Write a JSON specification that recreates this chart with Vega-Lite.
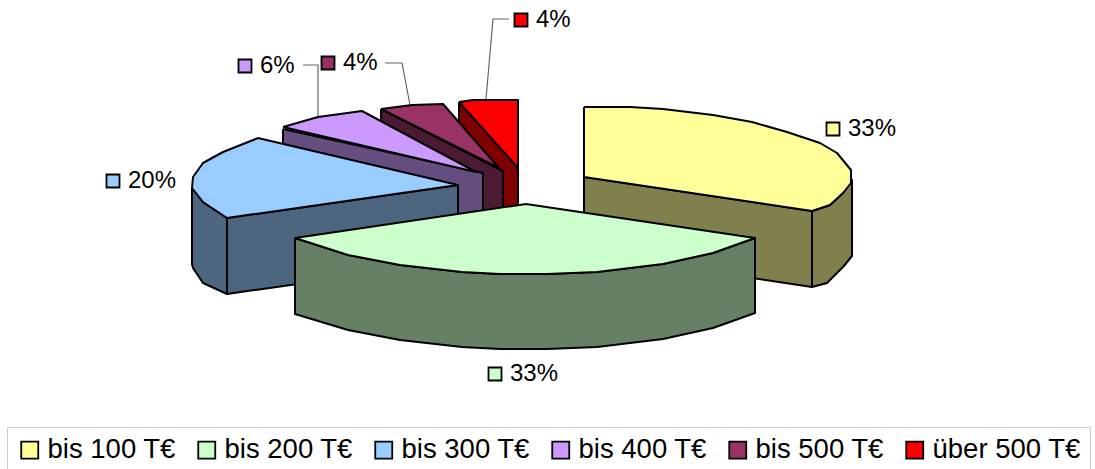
{
  "$schema": "https://vega.github.io/schema/vega-lite/v6.json",
  "width": 1095,
  "height": 469,
  "padding": 0,
  "autosize": {"type": "fit", "contains": "padding"},
  "background": "white",
  "config": {"view": {"stroke": null}, "font": "Liberation Sans"},
  "datasets": {
    "outline": [
      {"face":"r1","shade":"über 500 T€ Seite","i":0,"x":459,"y":102},{"face":"r1","shade":"über 500 T€ Seite","i":1,"x":518,"y":168},{"face":"r1","shade":"über 500 T€ Seite","i":2,"x":518,"y":244},{"face":"r1","shade":"über 500 T€ Seite","i":3,"x":459,"y":178},{"face":"r1","shade":"über 500 T€ Seite","i":4,"x":459,"y":102},
      {"face":"r2","shade":"über 500 T€","i":0,"x":459,"y":102},{"face":"r2","shade":"über 500 T€","i":1,"x":473,"y":100},{"face":"r2","shade":"über 500 T€","i":2,"x":518,"y":100},{"face":"r2","shade":"über 500 T€","i":3,"x":518,"y":168},{"face":"r2","shade":"über 500 T€","i":4,"x":459,"y":102},
      {"face":"m1","shade":"bis 500 T€ Seite","i":0,"x":381,"y":109},{"face":"m1","shade":"bis 500 T€ Seite","i":1,"x":503,"y":171},{"face":"m1","shade":"bis 500 T€ Seite","i":2,"x":503,"y":247},{"face":"m1","shade":"bis 500 T€ Seite","i":3,"x":381,"y":185},{"face":"m1","shade":"bis 500 T€ Seite","i":4,"x":381,"y":109},
      {"face":"m2","shade":"bis 500 T€","i":0,"x":381,"y":109},{"face":"m2","shade":"bis 500 T€","i":1,"x":412,"y":105},{"face":"m2","shade":"bis 500 T€","i":2,"x":443,"y":104},{"face":"m2","shade":"bis 500 T€","i":3,"x":499,"y":168},{"face":"m2","shade":"bis 500 T€","i":4,"x":381,"y":109},
      {"face":"p1","shade":"bis 400 T€ Seite","i":0,"x":283,"y":129},{"face":"p1","shade":"bis 400 T€ Seite","i":1,"x":483,"y":173},{"face":"p1","shade":"bis 400 T€ Seite","i":2,"x":483,"y":249},{"face":"p1","shade":"bis 400 T€ Seite","i":3,"x":283,"y":205},{"face":"p1","shade":"bis 400 T€ Seite","i":4,"x":283,"y":129},
      {"face":"p2","shade":"bis 400 T€","i":0,"x":283,"y":127},{"face":"p2","shade":"bis 400 T€","i":1,"x":318,"y":117},{"face":"p2","shade":"bis 400 T€","i":2,"x":362,"y":111},{"face":"p2","shade":"bis 400 T€","i":3,"x":476,"y":172},{"face":"p2","shade":"bis 400 T€","i":4,"x":283,"y":127},
      {"face":"b1","shade":"bis 300 T€ Seite","i":0,"x":227,"y":218},{"face":"b1","shade":"bis 300 T€ Seite","i":1,"x":458,"y":185},{"face":"b1","shade":"bis 300 T€ Seite","i":2,"x":458,"y":261},{"face":"b1","shade":"bis 300 T€ Seite","i":3,"x":227,"y":294},{"face":"b1","shade":"bis 300 T€ Seite","i":4,"x":227,"y":218},
      {"face":"b2","shade":"bis 300 T€ Seite","i":0,"x":192,"y":188},{"face":"b2","shade":"bis 300 T€ Seite","i":1,"x":203,"y":202},{"face":"b2","shade":"bis 300 T€ Seite","i":2,"x":227,"y":218},{"face":"b2","shade":"bis 300 T€ Seite","i":3,"x":227,"y":294},{"face":"b2","shade":"bis 300 T€ Seite","i":4,"x":203,"y":283},{"face":"b2","shade":"bis 300 T€ Seite","i":5,"x":193,"y":268},{"face":"b2","shade":"bis 300 T€ Seite","i":6,"x":192,"y":264},{"face":"b2","shade":"bis 300 T€ Seite","i":7,"x":192,"y":188},
      {"face":"b3","shade":"bis 300 T€","i":0,"x":258,"y":138},{"face":"b3","shade":"bis 300 T€","i":1,"x":223,"y":152},{"face":"b3","shade":"bis 300 T€","i":2,"x":203,"y":163},{"face":"b3","shade":"bis 300 T€","i":3,"x":193,"y":177},{"face":"b3","shade":"bis 300 T€","i":4,"x":192,"y":188},{"face":"b3","shade":"bis 300 T€","i":5,"x":203,"y":202},{"face":"b3","shade":"bis 300 T€","i":6,"x":227,"y":218},{"face":"b3","shade":"bis 300 T€","i":7,"x":458,"y":185},{"face":"b3","shade":"bis 300 T€","i":8,"x":258,"y":138},
      {"face":"y1","shade":"bis 100 T€ Seite","i":0,"x":584,"y":177},{"face":"y1","shade":"bis 100 T€ Seite","i":1,"x":812,"y":211},{"face":"y1","shade":"bis 100 T€ Seite","i":2,"x":812,"y":287},{"face":"y1","shade":"bis 100 T€ Seite","i":3,"x":584,"y":253},{"face":"y1","shade":"bis 100 T€ Seite","i":4,"x":584,"y":177},
      {"face":"y2","shade":"bis 100 T€ Seite","i":0,"x":812,"y":211},{"face":"y2","shade":"bis 100 T€ Seite","i":1,"x":830,"y":205},{"face":"y2","shade":"bis 100 T€ Seite","i":2,"x":843,"y":193},{"face":"y2","shade":"bis 100 T€ Seite","i":3,"x":852,"y":180},{"face":"y2","shade":"bis 100 T€ Seite","i":4,"x":852,"y":256},{"face":"y2","shade":"bis 100 T€ Seite","i":5,"x":843,"y":267},{"face":"y2","shade":"bis 100 T€ Seite","i":6,"x":827,"y":283},{"face":"y2","shade":"bis 100 T€ Seite","i":7,"x":812,"y":287},{"face":"y2","shade":"bis 100 T€ Seite","i":8,"x":812,"y":211},
      {"face":"y3","shade":"bis 100 T€","i":0,"x":584,"y":107},{"face":"y3","shade":"bis 100 T€","i":1,"x":630,"y":107},{"face":"y3","shade":"bis 100 T€","i":2,"x":663,"y":109},{"face":"y3","shade":"bis 100 T€","i":3,"x":713,"y":115},{"face":"y3","shade":"bis 100 T€","i":4,"x":752,"y":122},{"face":"y3","shade":"bis 100 T€","i":5,"x":787,"y":132},{"face":"y3","shade":"bis 100 T€","i":6,"x":820,"y":143},{"face":"y3","shade":"bis 100 T€","i":7,"x":837,"y":153},{"face":"y3","shade":"bis 100 T€","i":8,"x":851,"y":170},{"face":"y3","shade":"bis 100 T€","i":9,"x":851,"y":183},{"face":"y3","shade":"bis 100 T€","i":10,"x":843,"y":193},{"face":"y3","shade":"bis 100 T€","i":11,"x":830,"y":205},{"face":"y3","shade":"bis 100 T€","i":12,"x":812,"y":211},{"face":"y3","shade":"bis 100 T€","i":13,"x":584,"y":177},{"face":"y3","shade":"bis 100 T€","i":14,"x":584,"y":107},
      {"face":"g1","shade":"bis 200 T€ Seite","i":0,"x":295,"y":238},{"face":"g1","shade":"bis 200 T€ Seite","i":1,"x":348,"y":255},{"face":"g1","shade":"bis 200 T€ Seite","i":2,"x":400,"y":265},{"face":"g1","shade":"bis 200 T€ Seite","i":3,"x":462,"y":272},{"face":"g1","shade":"bis 200 T€ Seite","i":4,"x":500,"y":274},{"face":"g1","shade":"bis 200 T€ Seite","i":5,"x":547,"y":274},{"face":"g1","shade":"bis 200 T€ Seite","i":6,"x":597,"y":272},{"face":"g1","shade":"bis 200 T€ Seite","i":7,"x":663,"y":264},{"face":"g1","shade":"bis 200 T€ Seite","i":8,"x":713,"y":253},{"face":"g1","shade":"bis 200 T€ Seite","i":9,"x":755,"y":238},{"face":"g1","shade":"bis 200 T€ Seite","i":10,"x":755,"y":313},{"face":"g1","shade":"bis 200 T€ Seite","i":11,"x":713,"y":328},{"face":"g1","shade":"bis 200 T€ Seite","i":12,"x":663,"y":339},{"face":"g1","shade":"bis 200 T€ Seite","i":13,"x":597,"y":347},{"face":"g1","shade":"bis 200 T€ Seite","i":14,"x":547,"y":349},{"face":"g1","shade":"bis 200 T€ Seite","i":15,"x":500,"y":349},{"face":"g1","shade":"bis 200 T€ Seite","i":16,"x":462,"y":347},{"face":"g1","shade":"bis 200 T€ Seite","i":17,"x":400,"y":340},{"face":"g1","shade":"bis 200 T€ Seite","i":18,"x":348,"y":330},{"face":"g1","shade":"bis 200 T€ Seite","i":19,"x":295,"y":314},{"face":"g1","shade":"bis 200 T€ Seite","i":20,"x":295,"y":238},
      {"face":"g2","shade":"bis 200 T€","i":0,"x":526,"y":204},{"face":"g2","shade":"bis 200 T€","i":1,"x":755,"y":238},{"face":"g2","shade":"bis 200 T€","i":2,"x":713,"y":253},{"face":"g2","shade":"bis 200 T€","i":3,"x":663,"y":264},{"face":"g2","shade":"bis 200 T€","i":4,"x":597,"y":272},{"face":"g2","shade":"bis 200 T€","i":5,"x":547,"y":274},{"face":"g2","shade":"bis 200 T€","i":6,"x":500,"y":274},{"face":"g2","shade":"bis 200 T€","i":7,"x":462,"y":272},{"face":"g2","shade":"bis 200 T€","i":8,"x":400,"y":265},{"face":"g2","shade":"bis 200 T€","i":9,"x":348,"y":255},{"face":"g2","shade":"bis 200 T€","i":10,"x":295,"y":238},{"face":"g2","shade":"bis 200 T€","i":11,"x":526,"y":204}
    ],
    "leaders": [
      {"slice":"bis 400 T€","i":0,"x":303,"y":65},{"slice":"bis 400 T€","i":1,"x":318,"y":65},{"slice":"bis 400 T€","i":2,"x":318,"y":117},
      {"slice":"bis 500 T€","i":0,"x":385,"y":63},{"slice":"bis 500 T€","i":1,"x":402,"y":63},{"slice":"bis 500 T€","i":2,"x":410,"y":105},
      {"slice":"über 500 T€","i":0,"x":509,"y":19},{"slice":"über 500 T€","i":1,"x":493,"y":19},{"slice":"über 500 T€","i":2,"x":486,"y":99}
    ],
    "shares": [
      {"slice":"bis 100 T€","share":0.33,"x":833,"y":129},
      {"slice":"bis 200 T€","share":0.33,"x":495,"y":374},
      {"slice":"bis 300 T€","share":0.20,"x":113,"y":181},
      {"slice":"bis 400 T€","share":0.06,"x":245,"y":66},
      {"slice":"bis 500 T€","share":0.04,"x":328,"y":63},
      {"slice":"über 500 T€","share":0.04,"x":521,"y":20}
    ]
  },
  "layer": [
    {
      "data": {"name": "leaders"},
      "mark": {"type": "line", "stroke": "#666666", "strokeWidth": 1.2},
      "encoding": {
        "x": {"field": "x", "type": "quantitative", "axis": null, "scale": {"domain": [0, 1095], "nice": false, "zero": false}},
        "y": {"field": "y", "type": "quantitative", "axis": null, "scale": {"domain": [469, 0], "nice": false, "zero": false}},
        "detail": {"field": "slice"},
        "order": {"field": "i"}
      }
    },
    {
      "data": {"name": "outline"},
      "mark": {"type": "line", "stroke": "black", "strokeWidth": 2, "strokeJoin": "round"},
      "encoding": {
        "x": {"field": "x", "type": "quantitative"},
        "y": {"field": "y", "type": "quantitative"},
        "detail": {"field": "face"},
        "order": {"field": "i"},
        "fill": {"field": "shade", "type": "nominal"}
      }
    },
    {
      "data": {"name": "shares"},
      "mark": {"type": "point", "shape": "square", "filled": true, "opacity": 1, "size": 169, "stroke": "black", "strokeWidth": 1.8},
      "encoding": {
        "x": {"field": "x", "type": "quantitative"},
        "y": {"field": "y", "type": "quantitative"},
        "fill": {
          "field": "slice",
          "type": "nominal",
          "scale": {
            "domain": ["bis 100 T€", "bis 200 T€", "bis 300 T€", "bis 400 T€", "bis 500 T€", "über 500 T€", "bis 100 T€ Seite", "bis 200 T€ Seite", "bis 300 T€ Seite", "bis 400 T€ Seite", "bis 500 T€ Seite", "über 500 T€ Seite"],
            "range": ["#FFFF99", "#CCFFCC", "#99CCFF", "#CC99FF", "#993366", "#FF0000", "#80804D", "#668066", "#4D6680", "#664D80", "#4D1A33", "#800000"]
          },
          "legend": {
            "title": null,
            "values": ["bis 100 T€", "bis 200 T€", "bis 300 T€", "bis 400 T€", "bis 500 T€", "über 500 T€"],
            "orient": "none",
            "legendX": 7,
            "legendY": 427,
            "direction": "horizontal",
            "columns": 6,
            "columnPadding": 17,
            "symbolType": "square",
            "symbolSize": 289,
            "symbolStrokeColor": "black",
            "symbolStrokeWidth": 1.8,
            "symbolOpacity": 1,
            "labelFont": "Liberation Sans",
            "labelFontSize": 27.5,
            "labelColor": "black",
            "labelOffset": 4,
            "labelLimit": 0,
            "strokeColor": "#cccccc",
            "padding": 9
          }
        }
      }
    },
    {
      "data": {"name": "shares"},
      "mark": {"type": "text", "align": "left", "baseline": "middle", "dx": 15, "dy": 0, "fontSize": 24, "font": "Liberation Sans", "fill": "black"},
      "encoding": {
        "x": {"field": "x", "type": "quantitative"},
        "y": {"field": "y", "type": "quantitative"},
        "text": {"field": "share", "type": "quantitative", "format": ".0%"}
      }
    }
  ]
}
